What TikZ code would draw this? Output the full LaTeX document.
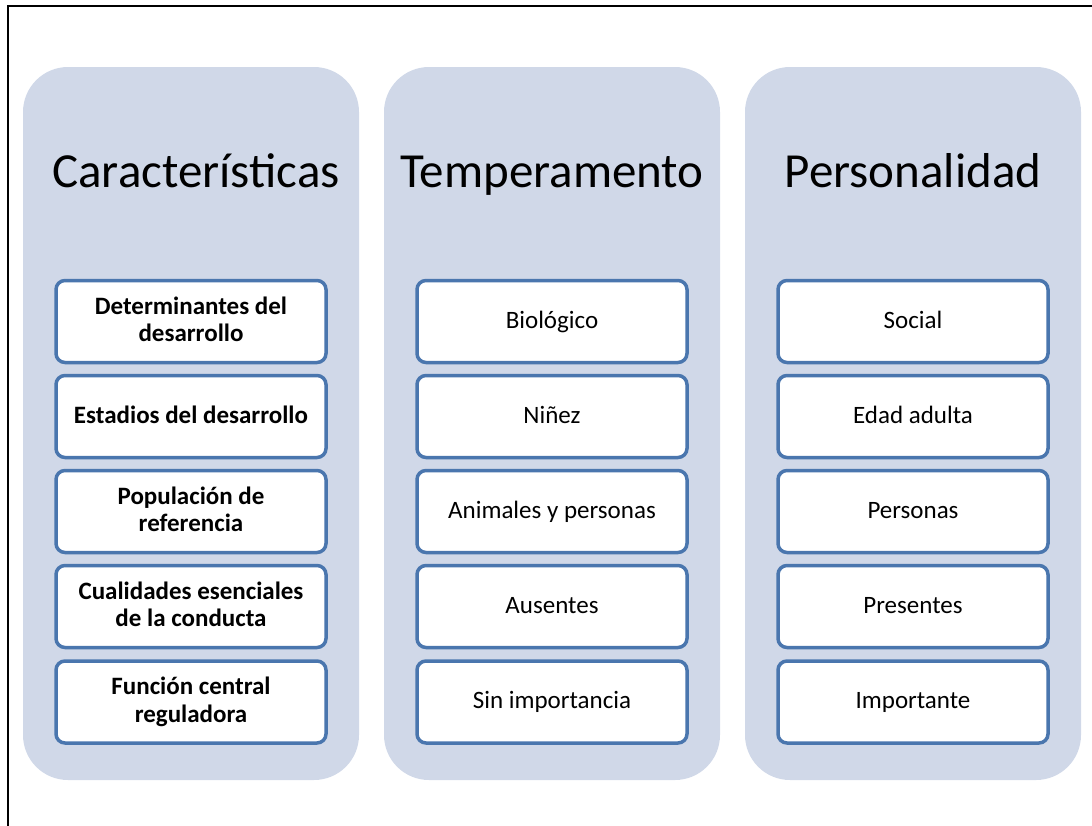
\documentclass[tikz,border=0pt]{standalone}
\usepackage{fontspec}
\setmainfont{Carlito}
\definecolor{panel}{HTML}{D0D8E8}
\definecolor{edge}{HTML}{4A76AE}
\begin{document}
\begin{tikzpicture}[x=1pt,y=-1pt,
  panelbox/.style={fill=panel,draw=none,rounded corners=45pt},
  itembox/.style={draw=edge,line width=3.5pt,fill=white,rounded corners=9pt,minimum width=270pt,minimum height=82pt,align=center,font=\fontsize{25}{27.5}\selectfont,inner sep=0pt,
    execute at begin node={\rule{0pt}{18pt}},execute at end node={\rule[-5pt]{0pt}{5pt}}},
  boldbox/.style={itembox,font=\fontsize{25}{27.5}\selectfont\bfseries},
  titletext/.style={font=\fontsize{49}{52}\selectfont,anchor=base}]
\useasboundingbox (0,0) rectangle (1092,825);
\draw[line width=2.5pt,line cap=rect] (8,825) -- (8,6) -- (1092,6);
\foreach \x in {23,384,745}{
  \fill[panel,rounded corners=45pt] (\x,67) rectangle ++(336,713);
}
\node[titletext] (t1) at (196,187) {Características};
\node[titletext] (t2) at (552,187) {Temperamento};
\node[titletext] (t3) at (913,187) {Personalidad};
\node[boldbox] (a1) at (191,321.5) {Determinantes del\\desarrollo};
\node[boldbox] (a2) at (191,416.5) {Estadios del desarrollo};
\node[boldbox] (a3) at (191,511.5) {Populación de\\referencia};
\node[boldbox] (a4) at (191,606.5) {Cualidades esenciales\\de la conducta};
\node[boldbox] (a5) at (191,702) {Función central\\reguladora};
\node[itembox] (b1) at (552,321.5) {Biológico};
\node[itembox] (b2) at (552,416.5) {Niñez};
\node[itembox] (b3) at (552,511.5) {Animales y personas};
\node[itembox] (b4) at (552,606.5) {Ausentes};
\node[itembox] (b5) at (552,702) {Sin importancia};
\node[itembox] (c1) at (913,321.5) {Social};
\node[itembox] (c2) at (913,416.5) {Edad adulta};
\node[itembox] (c3) at (913,511.5) {Personas};
\node[itembox] (c4) at (913,606.5) {Presentes};
\node[itembox] (c5) at (913,702) {Importante};
\end{tikzpicture}
\end{document}
